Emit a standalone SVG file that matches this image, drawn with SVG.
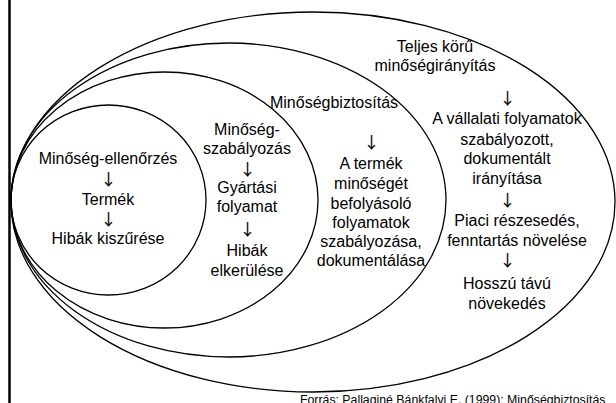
<svg xmlns="http://www.w3.org/2000/svg" width="616" height="403" viewBox="0 0 616 403">
<style>
.t{font-family:"Liberation Sans",Arial,sans-serif;font-size:16px;fill:#000;text-anchor:middle}
.a{font-family:"Noto Sans CJK JP","DejaVu Sans",sans-serif;font-size:16px;fill:#000;stroke:#000;stroke-width:0.2;text-anchor:middle}
.e{fill:none;stroke:#000;stroke-width:1.3}
.cap{font-family:"Liberation Sans",Arial,sans-serif;font-size:12.3px;fill:#000}
</style>
<rect width="616" height="403" fill="#fff"/>
<line x1="9.5" y1="0" x2="9.5" y2="403" stroke="#000" stroke-width="2.5"/>
<g id="connectors"/>
<g id="e4"><ellipse class="e" cx="313" cy="202" rx="302" ry="190"/>
<text class="t" x="435" y="52">Teljes körű</text>
<text class="t" x="435" y="71">minőségirányítás</text>
<text class="a" x="507.5" y="104">↓</text>
<text class="t" x="507" y="124">A vállalati folyamatok</text>
<text class="t" x="507" y="145">szabályozott,</text>
<text class="t" x="507" y="164">dokumentált</text>
<text class="t" x="507" y="184">irányítása</text>
<text class="a" x="507.5" y="206">↓</text>
<text class="t" x="517" y="226">Piaci részesedés,</text>
<text class="t" x="517" y="246">fenntartás növelése</text>
<text class="a" x="507.5" y="266">↓</text>
<text class="t" x="507" y="289">Hosszú távú</text>
<text class="t" x="507" y="309">növekedés</text>
</g>
<g id="e3"><ellipse class="e" cx="228.5" cy="200" rx="217.5" ry="157"/>
<text class="t" x="334" y="108">Minőségbiztosítás</text>
<text class="a" x="371.5" y="148">↓</text>
<text class="t" x="371" y="169">A termék</text>
<text class="t" x="371" y="189">minőségét</text>
<text class="t" x="371" y="209">befolyásoló</text>
<text class="t" x="371" y="228">folyamatok</text>
<text class="t" x="371" y="247">szabályozása,</text>
<text class="t" x="371" y="266">dokumentálása</text>
</g>
<g id="e2"><ellipse class="e" cx="164.5" cy="200" rx="153.5" ry="128"/>
<text class="t" x="247" y="135">Minőség-</text>
<text class="t" x="247" y="154">szabályozás</text>
<text class="a" x="247.5" y="175">↓</text>
<text class="t" x="247" y="193">Gyártási</text>
<text class="t" x="247" y="212">folyamat</text>
<text class="a" x="247.5" y="235">↓</text>
<text class="t" x="247" y="256">Hibák</text>
<text class="t" x="247" y="276">elkerülése</text>
</g>
<g id="e1"><ellipse class="e" cx="108.5" cy="200" rx="97.5" ry="95"/>
<text class="t" x="108" y="164">Minőség-ellenőrzés</text>
<text class="a" x="108.5" y="185">↓</text>
<text class="t" x="108" y="205">Termék</text>
<text class="a" x="108.5" y="225">↓</text>
<text class="t" x="108" y="244">Hibák kiszűrése</text>
</g>
<text class="cap" x="300" y="404">Forrás: Pallaginé Bánkfalvi E. (1999): Minőségbiztosítás</text>
</svg>
